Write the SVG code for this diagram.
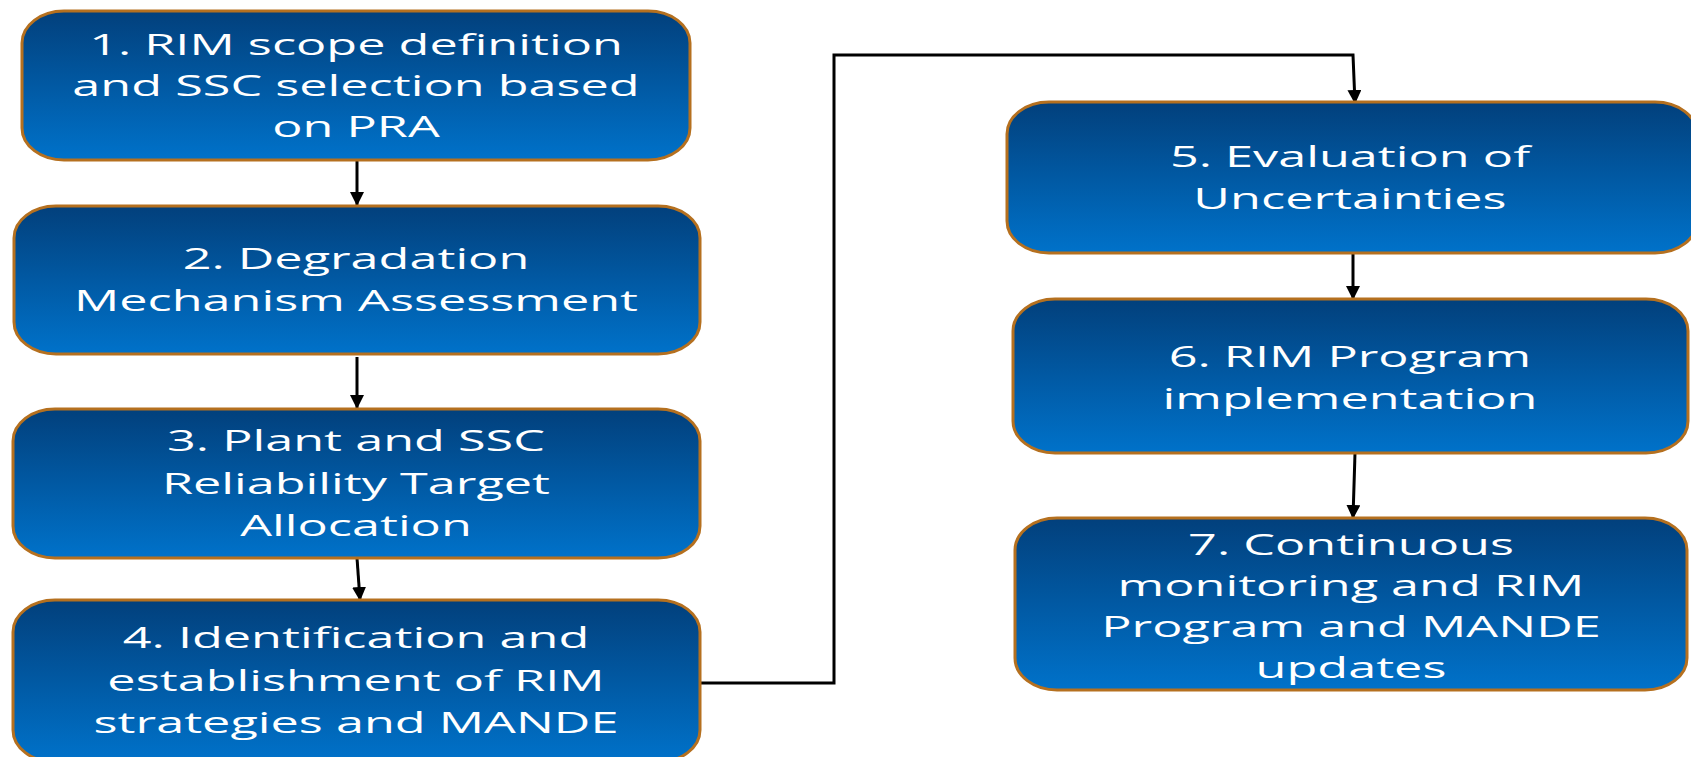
<svg xmlns="http://www.w3.org/2000/svg" width="1691" height="757" viewBox="0 0 1691 757">
<defs>
<linearGradient id="g" x1="0" y1="0" x2="0" y2="1">
<stop offset="0" stop-color="#02407C"/>
<stop offset="1" stop-color="#0072CA"/>
</linearGradient>
<marker id="ah" viewBox="0 0 14 14" refX="13" refY="7" markerWidth="14" markerHeight="14" markerUnits="userSpaceOnUse" orient="auto">
<path d="M0,0 L14,7 L0,14 z" fill="#000"/>
</marker>
<style>
.box{fill:url(#g);stroke:#B5701F;stroke-width:3}
.t{font-family:"Open Sans","Liberation Sans",sans-serif;font-size:30px;fill:#fff;text-anchor:middle}
.c{fill:none;stroke:#000;stroke-width:3}
</style>
</defs>
<rect width="1691" height="757" fill="#fff"/>
<g id="connectors">
<line class="c" x1="357" y1="160" x2="357" y2="205" marker-end="url(#ah)"/>
<line class="c" x1="357" y1="357" x2="357" y2="408" marker-end="url(#ah)"/>
<line class="c" x1="357" y1="558" x2="360" y2="600" marker-end="url(#ah)"/>
<polyline class="c" points="701,683 834,683 834,55 1353,55 1355,103" marker-end="url(#ah)"/>
<line class="c" x1="1353" y1="253" x2="1353" y2="299" marker-end="url(#ah)"/>
<line class="c" x1="1355" y1="453" x2="1353" y2="518" marker-end="url(#ah)"/>
</g>
<g id="n1">
<rect class="box" x="22" y="11" width="668" height="149" rx="42" ry="32"/>
<g transform="translate(356,0) scale(1.68,1)">
<text class="t" x="0" y="55">1. RIM scope definition</text>
<text class="t" x="0" y="96">and SSC selection based</text>
<text class="t" x="0" y="137">on PRA</text>
</g>
</g>
<g id="n2">
<rect class="box" x="14" y="206" width="686" height="148" rx="42" ry="32"/>
<g transform="translate(356,0) scale(1.68,1)">
<text class="t" x="0" y="269">2. Degradation</text>
<text class="t" x="0" y="311">Mechanism Assessment</text>
</g>
</g>
<g id="n3">
<rect class="box" x="13" y="409" width="687" height="149" rx="42" ry="32"/>
<g transform="translate(356,0) scale(1.68,1)">
<text class="t" x="0" y="451">3. Plant and SSC</text>
<text class="t" x="0" y="494">Reliability Target</text>
<text class="t" x="0" y="536">Allocation</text>
</g>
</g>
<g id="n4">
<rect class="box" x="13" y="600" width="687" height="162" rx="42" ry="32"/>
<g transform="translate(356,0) scale(1.68,1)">
<text class="t" x="0" y="648">4. Identification and</text>
<text class="t" x="0" y="691">establishment of RIM</text>
<text class="t" x="0" y="733">strategies and MANDE</text>
</g>
</g>
<g id="n5">
<rect class="box" x="1007" y="102" width="690" height="151" rx="42" ry="32"/>
<g transform="translate(1350,0) scale(1.68,1)">
<text class="t" x="0" y="167">5. Evaluation of</text>
<text class="t" x="0" y="209">Uncertainties</text>
</g>
</g>
<g id="n6">
<rect class="box" x="1013" y="299" width="675" height="154" rx="42" ry="32"/>
<g transform="translate(1350,0) scale(1.68,1)">
<text class="t" x="0" y="367">6. RIM Program</text>
<text class="t" x="0" y="409">implementation</text>
</g>
</g>
<g id="n7">
<rect class="box" x="1015" y="518" width="672" height="172" rx="42" ry="32"/>
<g transform="translate(1351,0) scale(1.68,1)">
<text class="t" x="0" y="555">7. Continuous</text>
<text class="t" x="0" y="596">monitoring and RIM</text>
<text class="t" x="0" y="637">Program and MANDE</text>
<text class="t" x="0" y="678">updates</text>
</g>
</g>
</svg>
